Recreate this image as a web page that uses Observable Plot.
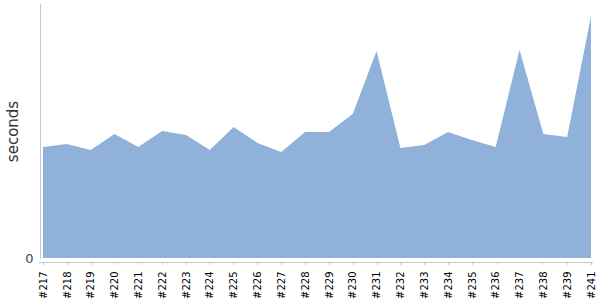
<!DOCTYPE html>
<html>
<head>
<meta charset="utf-8">
<script src="https://cdn.jsdelivr.net/npm/d3@7"></script>
<script src="https://cdn.jsdelivr.net/npm/@observablehq/plot@0.6"></script>
<style>
  html, body { margin: 0; padding: 0; background: #fff; }
  #chart svg { display: block; }
</style>
</head>
<body>
<div id="chart"></div>
<script>
const builds = ["#217","#218","#219","#220","#221","#222","#223","#224","#225","#226","#227","#228","#229","#230","#231","#232","#233","#234","#235","#236","#237","#238","#239","#241"];
const seconds = [111, 114, 108, 124, 111, 127, 123, 108, 131, 115, 106, 126, 126, 144, 207, 110, 113, 126, 118, 111, 208, 124, 121, 242];
const yTicks = [0];

const data = builds.map((b, i) => ({i, build: b, value: seconds[i]}));

const chart = Plot.plot({
  width: 600,
  height: 300,
  marginTop: 4,
  marginLeft: 43,
  marginRight: 9,
  marginBottom: 42,
  style: {fontFamily: "'DejaVu Sans', sans-serif", fontSize: "10px", color: "#000", background: "#fff"},
  x: {type: "linear", domain: [0, builds.length - 1]},
  y: {domain: [0, 254]},
  marks: [
    Plot.areaY(data, {x: "i", y: "value", fill: "#8fb1da", curve: "linear"}),
    Plot.frame({anchor: "left", stroke: "#c8c8c8", dx: -3}),
    Plot.frame({anchor: "bottom", stroke: "#c8c8c8", dy: 4, insetLeft: -4, insetRight: -1}),
    Plot.axisY({ticks: yTicks, tickSize: 0, tickPadding: 10, fontSize: 13, fill: "#444", label: null}),
    Plot.axisX({ticks: d3.range(builds.length), tickFormat: i => builds[i], tickRotate: -90, tickSize: 3, tickPadding: 6, dy: 4, stroke: "#c8c8c8", fill: "#000", label: null}),
    Plot.text(["seconds"], {frameAnchor: "left", textAnchor: "middle", dx: -30, rotate: -90, fontSize: 15, fill: "#333", text: d => d})
  ]
});
document.getElementById("chart").append(chart);
</script>
</body>
</html>
